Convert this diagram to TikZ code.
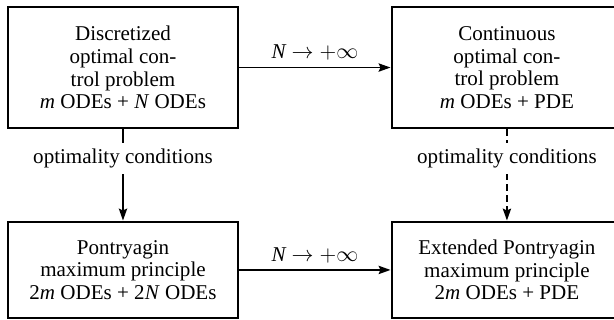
\documentclass[tikz,border=0pt]{standalone}
\usepackage{fontspec}
\setmainfont{Liberation Serif}
\usepackage{tikz}
\usetikzlibrary{arrows.meta}
\usetikzlibrary{positioning}
\tikzstyle{probnode}=[black, draw=black, line width=1.5pt, shape=rectangle, fill=white, minimum width=125.7pt, minimum height=66.1pt, inner sep=2pt, align=center]
\tikzstyle{pmpnode}=[black, draw=black, line width=1.5pt, shape=rectangle, fill=white, minimum width=125.7pt, minimum height=52.5pt, inner sep=2pt, align=center]
\tikzstyle{condlabel}=[fill=white, inner sep=3pt]

\begin{document}
\begin{tikzpicture}[x=1pt, y=1pt, font=\fontsize{11.5pt}{12.4pt}\selectfont]
\useasboundingbox (0,0) rectangle (335.5,-174.8);
\node [probnode] (disc) at (67.2,-36.9) {Discretized\\optimal con-\\trol problem\\\textit{m} ODEs + \textit{N} ODEs};
\node [probnode] (cont) at (277.0,-36.9) {Continuous\\optimal con-\\trol problem\\\textit{m} ODEs + PDE};
\node [pmpnode] (pmp) at (67.2,-147.5) {Pontryagin\\maximum principle\\2\textit{m} ODEs + 2\textit{N} ODEs};
\node [pmpnode] (epmp) at (277.0,-147.5) {Extended Pontryagin\\maximum principle\\2\textit{m} ODEs + PDE};

\draw[-{Stealth[length=6.5pt, width=4.5pt, inset=1pt]}, line width=1pt, color=black] (disc) -- node[above] {$\textit{N} \to +\infty$} (cont);
\draw[-{Stealth[length=6.5pt, width=4.5pt, inset=1pt]}, line width=1pt, color=black] (pmp) -- node[above] {$\textit{N} \to +\infty$} (epmp);
\draw[-{Stealth[length=6.5pt, width=4.5pt, inset=1pt]}, line width=1pt, color=black] (disc) -- node[condlabel, pos=0.32] {optimality conditions} (pmp);
\draw[-{Stealth[length=6.5pt, width=4.5pt, inset=1pt]}, line width=1pt, color=black, dash pattern=on 3.5pt off 2.5pt] (cont) -- node[condlabel, pos=0.32] {optimality conditions} (epmp);
\end{tikzpicture}
\end{document}
